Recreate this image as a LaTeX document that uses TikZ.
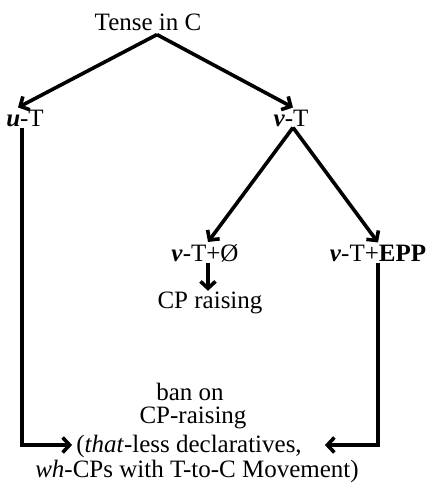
\documentclass[tikz,border=0pt]{standalone}
\usepackage{fontspec}
\setmainfont{Liberation Serif}
\usetikzlibrary{arrows.meta}
\tikzset{>={Straight Barb[length=7pt,width=15pt]}}
\newcommand{\ital}[1]{\textbf{\textit{#1}}}

\begin{document}
\begin{tikzpicture}[x=1pt, y=-1pt,
    lbl/.style={inner sep=1pt, font=\fontsize{25}{26}\selectfont},
    arr/.style={->, line width=3.6pt}]
            \useasboundingbox (0,0) rectangle (433,484);
            \node[lbl] (tense) at (148,22) {Tense in C};
            \node[lbl] (uT) at (25,118) {\ital{u}-T};
            \node[lbl] (vT) at (291,118) {\ital{v}-T};
            \node[lbl] (vTnull) at (205,253) {\ital{v}-T+Ø};
            \node[lbl] (vTepp) at (378,253) {\ital{v}-T+\textbf{EPP}};
            \node[lbl] (cpr) at (210,303) {CP raising};
            % ban on CP-raising, line by line
            \node[lbl] (ban) at (190,392) {ban on};
            \node[lbl] (raise) at (193,418) {CP-raising};
            \node[lbl] (that) at (189,446) {(\textit{that}-less declaratives,};
            \node[lbl] (wh) at (197,471) {\textit{wh}-CPs with T-to-C Movement)};
            \draw[arr] ([xshift=9pt, yshift=-3pt]tense.south) -- ([xshift=-7pt, yshift=1pt]uT.north);
            \draw[arr] ([xshift=9pt, yshift=-3pt]tense.south) -- ([xshift=2pt, yshift=1pt]vT.north);
            \draw[arr] ([xshift=2pt]vT.south) -- ([xshift=3pt, yshift=1pt]vTnull.north);
            \draw[arr] ([xshift=2pt]vT.south) -- ([yshift=1pt]vTepp.north);
            \draw[arr] ([xshift=3pt]vTnull.south) -- ([xshift=-2pt]cpr.north);
            \draw[arr] ([xshift=-3pt]uT.south) |- ([xshift=-3pt, yshift=1pt]that.west);
            \draw[arr] (vTepp.south) |- ([xshift=22pt, yshift=1pt]that.east);
        \end{tikzpicture}
\end{document}
